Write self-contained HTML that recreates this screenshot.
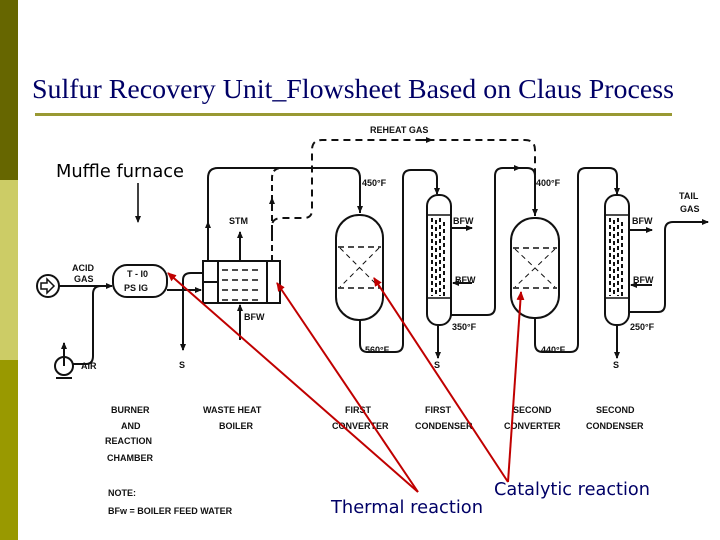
<!DOCTYPE html>
<html><head><style>
body{margin:0;width:720px;height:540px;background:#fff;overflow:hidden;position:relative}
svg{position:absolute;left:0;top:0}
</style></head><body>
<svg width="720" height="540" viewBox="0 0 720 540" xmlns="http://www.w3.org/2000/svg">
<defs>
<marker id="a" markerWidth="8" markerHeight="8" refX="6" refY="4" orient="auto" markerUnits="userSpaceOnUse"><path d="M0,1 L7,4 L0,7 Z" fill="#111"/></marker>
<marker id="r" markerWidth="10" markerHeight="10" refX="8" refY="5" orient="auto" markerUnits="userSpaceOnUse"><path d="M0,1 L9,5 L0,9 Z" fill="#c00000"/></marker>
</defs>
<rect x="0" y="0" width="18" height="180" fill="#666600"/>
<rect x="0" y="180" width="18" height="180" fill="#cccc66"/>
<rect x="0" y="360" width="18" height="180" fill="#999900"/>
<text x="32" y="98" font-family="Liberation Serif,serif" font-size="27.8" fill="#000066" textLength="642" lengthAdjust="spacingAndGlyphs">Sulfur Recovery Unit_Flowsheet Based on Claus Process</text>
<rect x="35" y="113" width="637" height="3" fill="#999933"/>
<text x="56" y="177" font-family="DejaVu Sans,sans-serif" font-size="17.5" fill="#000" textLength="128" lengthAdjust="spacingAndGlyphs">Muffle furnace</text>
<line x1="138" y1="183" x2="138" y2="222" stroke="#000" stroke-width="1.5" marker-end="url(#a)"/>

<g stroke="#111" stroke-width="2" fill="none" font-family="Liberation Sans,sans-serif">
<circle cx="48" cy="286" r="11"/>
<path d="M41,283 h6 v-4 l7,7 -7,7 v-4 h-6 z" stroke-width="1.5"/>
<path d="M59,286 H112" marker-end="url(#a)"/>
<path d="M72,364 h14 q7,0 7,-8 V294 q0,-8 8,-8"/>
<circle cx="64" cy="366" r="9"/>
<path d="M64,366 V343" marker-end="url(#a)"/>
<path d="M56,378 h16"/>
<rect x="113" y="265" width="54" height="32" rx="14"/>
<path d="M167,290 H201" marker-end="url(#a)"/>
<path d="M183,290 V350" marker-end="url(#a)"/>
<path d="M183,290 V280 q0,-7 8,-7 h12"/>
<rect x="203" y="261" width="77" height="42"/>
<path d="M218,261 V303 M203,282 H218 M267,261 V303"/>
<path d="M222,270 H262 M222,280 H262 M222,290 H262 M222,300 H262" stroke-dasharray="6,4" stroke-width="1.5"/>
<path d="M240,261 V232" marker-end="url(#a)"/>
<path d="M240,340 V305" marker-end="url(#a)"/>
<path d="M208,261 V178 q0,-10 10,-10 H350 q10,0 10,10 V213" />
<path d="M208,230 V222" marker-end="url(#a)"/>
<path d="M360,200 V212" marker-end="url(#a)"/>
<path d="M272,261 V178 q0,-10 10,-10" stroke-dasharray="6,4"/>
<path d="M272,235 V226 q0,-8 10,-8 h22 q8,0 8,-8 V150 q0,-10 10,-10 H525 q10,0 10,10 V178" stroke-dasharray="7,5"/>
<path d="M272,205 V198" marker-end="url(#a)"/>
<path d="M420,140 H432" marker-end="url(#a)"/>
<rect x="336" y="215" width="47" height="105" rx="23"/>
<path d="M338,247 H381 M338,288 H381" stroke-dasharray="6,4" stroke-width="1.5"/>
<path d="M340,248 L379,287 M379,248 L340,287" stroke-dasharray="5,4" stroke-width="1"/>
<path d="M360,320 V344 q0,8 8,8 h27 q8,0 8,-8 V178 q0,-8 8,-8 h18 q8,0 8,8 V193"/>
<path d="M437,185 V194" marker-end="url(#a)"/>
<rect x="427" y="195" width="24" height="130" rx="11"/>
<path d="M428,215 H450 M428,298 H450" stroke-width="1.5"/>
<g stroke-width="2" stroke-dasharray="4,3"><path d="M432,218 V296 M436,220 V296 M440,218 V296 M444,222 V296"/></g>
<path d="M451,228 H472" marker-end="url(#a)"/>
<path d="M472,283 H453" marker-end="url(#a)"/>
<path d="M438,325 V358" marker-end="url(#a)"/>
<path d="M451,315 H487 q8,0 8,-8 V176 q0,-8 8,-8 h24 q8,0 8,8 V216"/>
<path d="M510,168 H520" marker-end="url(#a)"/>
<path d="M535,205 V215" marker-end="url(#a)"/>
<rect x="511" y="218" width="48" height="100" rx="23"/>
<path d="M513,248 H557 M513,288 H557" stroke-dasharray="6,4" stroke-width="1.5"/>
<path d="M515,249 L555,287 M555,249 L515,287" stroke-dasharray="5,4" stroke-width="1"/>
<path d="M535,318 V344 q0,8 8,8 h27 q8,0 8,-8 V176 q0,-8 8,-8 h23 q8,0 8,8 V193"/>
<path d="M617,185 V194" marker-end="url(#a)"/>
<rect x="605" y="195" width="24" height="130" rx="11"/>
<path d="M606,215 H628 M606,298 H628" stroke-width="1.5"/>
<g stroke-width="2" stroke-dasharray="4,3"><path d="M610,218 V296 M614,220 V296 M618,218 V296 M622,222 V296"/></g>
<path d="M629,230 H652" marker-end="url(#a)"/>
<path d="M652,285 H631" marker-end="url(#a)"/>
<path d="M617,325 V358" marker-end="url(#a)"/>
<path d="M629,312 H658 q7,0 7,-8 V230 q0,-8 8,-8 H708" marker-end="url(#a)"/>
</g>

<g font-family="Liberation Sans,sans-serif" font-size="9" font-weight="bold" fill="#111">
<text x="72" y="271">ACID</text><text x="74" y="282">GAS</text>
<text x="81" y="369">AIR</text>
<text x="127" y="277">T - I0</text><text x="124" y="291">PS IG</text>
<text x="179" y="368">S</text>
<text x="229" y="224">STM</text>
<text x="244" y="320">BFW</text>
<text x="370" y="133">REHEAT  GAS</text>
<text x="362" y="186">450°F</text>
<text x="453" y="224">BFW</text>
<text x="455" y="283">BFW</text>
<text x="452" y="330">350°F</text>
<text x="365" y="353">560°F</text>
<text x="434" y="368">S</text>
<text x="536" y="186">400°F</text>
<text x="541" y="353">440°F</text>
<text x="632" y="224">BFW</text>
<text x="633" y="283">BFW</text>
<text x="630" y="330">250°F</text>
<text x="613" y="368">S</text>
<text x="679" y="199">TAIL</text><text x="680" y="212">GAS</text>
<text x="111" y="413">BURNER</text><text x="121" y="429">AND</text>
<text x="105" y="444">REACTION</text><text x="107" y="461">CHAMBER</text>
<text x="203" y="413">WASTE  HEAT</text><text x="219" y="429">BOILER</text>
<text x="345" y="413">FIRST</text><text x="332" y="429">CONVERTER</text>
<text x="425" y="413">FIRST</text><text x="415" y="429">CONDENSER</text>
<text x="513" y="413">SECOND</text><text x="504" y="429">CONVERTER</text>
<text x="596" y="413">SECOND</text><text x="586" y="429">CONDENSER</text>
<text x="108" y="496">NOTE:</text>
<text x="108" y="514">BFw = BOILER  FEED WATER</text>
</g>

<g stroke="#c00000" stroke-width="2" fill="none">
<path d="M418,492 L168,273" marker-end="url(#r)"/>
<path d="M418,492 L277,283" marker-end="url(#r)"/>
<path d="M508,482 L374,278" marker-end="url(#r)"/>
<path d="M508,482 L521,292" marker-end="url(#r)"/>
</g>
<text x="331" y="513" font-family="DejaVu Sans,sans-serif" font-size="17.5" fill="#000066" textLength="152" lengthAdjust="spacingAndGlyphs">Thermal reaction</text>
<text x="494" y="495" font-family="DejaVu Sans,sans-serif" font-size="17.5" fill="#000066" textLength="156" lengthAdjust="spacingAndGlyphs">Catalytic reaction</text>
</svg>
</body></html>
